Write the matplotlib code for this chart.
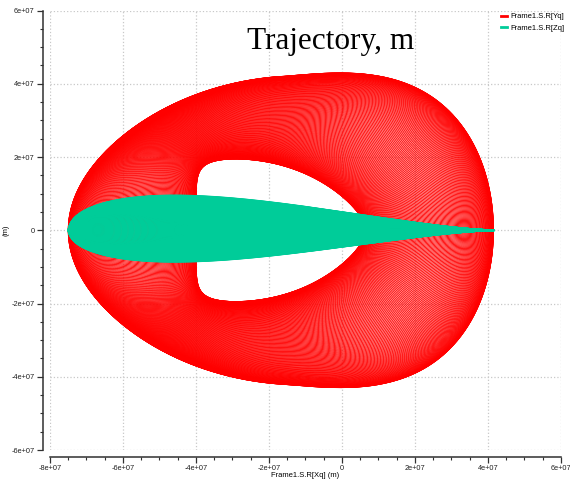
import numpy as np
import matplotlib.pyplot as plt
from matplotlib.ticker import MultipleLocator, FuncFormatter

# Envelope of the precessing orbit, outer loop -> inner loop (metres)
x_left = [-7.5e7, -4.0e7]
x_right = [4.15e7, 0.65e7]
y_half = [4.2e7, 1.78e7]
left_power = [0.8, 1.0]     # stretch of X on the trailing / leading side
right_power = [0.8, 1.0]
y_power_left = [1.0, 0.3]   # <1 makes the side boxier
y_power_right = [1.0, 1.1]
y_skew = [0.22, -0.35]
# out-of-plane excursion of the widest loop
z_top = 0.95e7
z_bottom = 0.86e7
n_loops = 170

series_labels = ['Frame1.S.R[Yq]', 'Frame1.S.R[Zq]']
red = '#ff0000'
green = '#00cc99'


def lerp(pair, t):
    return pair[0] * (1 - t) + pair[1] * t


theta = np.linspace(0, 2 * np.pi, 900)
u, v = np.cos(theta), np.sin(theta)

xc_out = (x_left[0] + x_right[0]) / 2
a_out = (x_right[0] - x_left[0]) / 2

loops_y, loops_z = [], []
for s in np.linspace(0, 1, n_loops):
    t = (1 - np.cos(np.pi * s)) / 2   # loops bunch up near both edges
    xl, xr = lerp(x_left, t), lerp(x_right, t)
    xc, a = (xl + xr) / 2, (xr - xl) / 2
    pl, pr = lerp(left_power, t), lerp(right_power, t)
    c = np.where(u < 0, -np.abs(u) ** pl, np.abs(u) ** pr)
    x = xc + a * c
    q = lerp(y_power_left, t) * (1 - u) / 2 + lerp(y_power_right, t) * (1 + u) / 2
    y = lerp(y_half, t) * np.sign(v) * np.abs(v) ** q * (1 + lerp(y_skew, t) * u)
    loops_y.append((x, y))

    # Z follows a leaf profile along X, widest behind the centre
    uo = np.clip((x - xc_out) / a_out, -1, 1)
    g = np.sqrt(1 - uo ** 2) * (1 - uo) / 2 / 0.6495
    amp = 1 - s
    z = amp * g * np.tanh(8 * v) * np.where(v > 0, z_top, z_bottom)
    loops_z.append((x, z))

fig = plt.figure(figsize=(5.7, 4.79), dpi=100)
ax = fig.add_axes([0.0877, 0.0605, 0.8965, 0.9175])

for j, (x, y) in enumerate(loops_y):
    ax.plot(x, y, color=red, lw=0.65, label=series_labels[0] if j == 0 else None)
for j, (x, z) in enumerate(loops_z):
    ax.plot(x, z, color=green, lw=1.3, label=series_labels[1] if j == 0 else None)

ax.set_xlim(-8e7, 6e7)
ax.set_ylim(-6e7, 6e7)

fmt = FuncFormatter(lambda val, pos: '0' if abs(val) < 1 else f'{val:.0e}')
for axis in (ax.xaxis, ax.yaxis):
    axis.set_major_locator(MultipleLocator(2e7))
    axis.set_minor_locator(MultipleLocator(5e6))
    axis.set_major_formatter(fmt)

ax.grid(True, which='major', linestyle=':', color='#c8c8c8', lw=0.9)
ax.set_axisbelow(True)

for side in ('top', 'right'):
    ax.spines[side].set_visible(False)
for side in ('left', 'bottom'):
    ax.spines[side].set_position(('outward', 5))
    ax.spines[side].set_color('#303030')
    ax.spines[side].set_linewidth(1.1)

ax.tick_params(which='major', length=4, width=0.9, color='#303030',
               labelsize=5.3, labelcolor='#202020', pad=2)
ax.tick_params(which='minor', length=2.5, width=0.8, color='#303030')
for lbl in ax.get_xticklabels() + ax.get_yticklabels():
    lbl.set_family('Liberation Sans')

ax.set_xlabel('Frame1.S.R[Xq] (m)', fontsize=5.5, family='Liberation Sans',
              labelpad=0)
ax.set_ylabel('(m)', fontsize=5.5, family='Liberation Sans')
ax.yaxis.set_label_coords(-0.08, 0.5)

ax.text(0.55, 0.93, 'Trajectory, m', transform=ax.transAxes,
        ha='center', va='center', fontsize=22.5, family='Liberation Serif')

leg = ax.legend(loc='upper right', bbox_to_anchor=(1.02, 1.01), frameon=False,
                handlelength=0.8, handletextpad=0.4, labelspacing=0.5,
                prop={'family': 'Liberation Sans', 'size': 5.5})
for h in leg.legend_handles:
    h.set_linewidth(2)

fig.savefig('out.png', dpi=100)
